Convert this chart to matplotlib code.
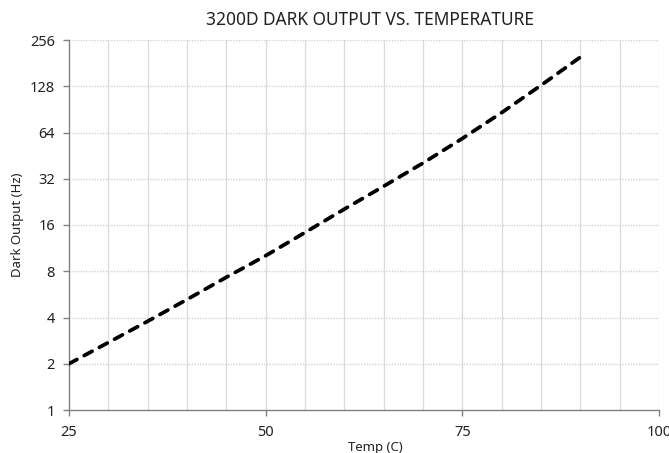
import matplotlib
matplotlib.use("Agg")
import matplotlib.pyplot as plt
from matplotlib.ticker import FixedLocator, NullFormatter

temps = [25, 30, 35, 40, 45, 50, 55, 60, 65, 70, 75, 80, 85, 90]
dark_output = [2.0, 2.75, 3.78, 5.24, 7.31, 10.1, 14.3, 20.3, 28.6, 40.5, 58.5, 86.2, 129.8, 198]
y_ticks = [1, 2, 4, 8, 16, 32, 64, 128, 256]
x_ticks = [25, 50, 75, 100]
x_grid = [30, 35, 40, 45, 50, 55, 60, 65, 70, 75, 80, 85, 90, 95]

plt.rcParams['font.family'] = ['Noto Sans', 'DejaVu Sans']

fig = plt.figure(figsize=(6.69, 4.53), dpi=100)
ax = fig.add_axes([69/669, (453-410)/453, (659-69)/669, (410-40)/453])

ax.set_yscale('log', base=2)
ax.set_xlim(25, 100)
ax.set_ylim(1, 256)

# grid
for x in x_grid:
    ax.axvline(x, color='#dcdcdc', lw=1.0, zorder=0)
ax.axvline(100, color='#d4d4d4', lw=1.0, ls=(0, (1, 1)), zorder=0)
for y in y_ticks[1:]:
    ax.axhline(y, color='#d4d4d4', lw=1.0, ls=(0, (1, 1)), zorder=0)

ax.plot(temps, dark_output, color='black', lw=2.7,
        dashes=(2.4, 2.2), dash_capstyle='round', zorder=3)

ax.xaxis.set_major_locator(FixedLocator(x_ticks))
ax.yaxis.set_major_locator(FixedLocator(y_ticks))
ax.yaxis.set_minor_formatter(NullFormatter())
ax.yaxis.set_minor_locator(FixedLocator([]))
ax.set_yticklabels([str(v) for v in y_ticks])
ax.set_xticklabels([str(v) for v in x_ticks])

for s in ['top', 'right']:
    ax.spines[s].set_visible(False)
for s in ['left', 'bottom']:
    ax.spines[s].set_color('#808080')
    ax.spines[s].set_linewidth(1.0)

ax.tick_params(axis='both', direction='out', length=4, width=1, color='#808080',
               labelsize=10.5, labelcolor='#222222')
ax.tick_params(axis='x', pad=7)
ax.tick_params(axis='y', pad=6)

ax.set_xlabel('Temp (C)', fontsize=9.5, color='#222222', labelpad=0)
ax.set_ylabel('Dark Output (Hz)', fontsize=9.5, color='#222222', labelpad=8)
ax.xaxis.set_label_coords(0.52, -0.085)
ax.yaxis.set_label_coords(-0.076, 0.5)
ax.set_title('3200D DARK OUTPUT VS. TEMPERATURE', fontsize=12.5, color='#222222', pad=11,
             x=0.51)

fig.savefig('out.png', dpi=100)
